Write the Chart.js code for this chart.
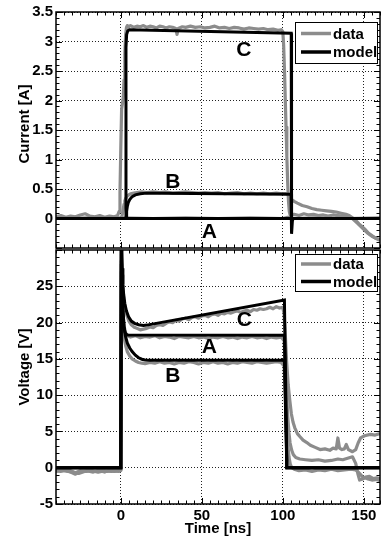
<!DOCTYPE html>
<html><head><meta charset="utf-8">
<script src="https://cdn.jsdelivr.net/npm/chart.js@4/dist/chart.umd.min.js"></script>
<style>
html,body{margin:0;padding:0;background:#fff;}
#wrap{position:relative;width:381px;height:541px;overflow:hidden;background:#fff;}
canvas{position:absolute;left:0;}
#c1{top:0;}
#c2{top:238px;}
</style></head><body>
<div id="wrap"><canvas id="c1" width="381" height="262"></canvas><canvas id="c2" width="381" height="303"></canvas></div>
<script>
// ---------- axes ----------
const timeRange = [-40, 160];
const timeTicks = [0, 50, 100, 150];
const currentRange = [-0.5, 3.5];
const currentTicks = [0, 0.5, 1, 1.5, 2, 2.5, 3, 3.5];
const voltageRange = [-5, 30];
const voltageTicks = [-5, 0, 5, 10, 15, 20, 25];
const legendNames = ['data', 'model'];

// ---------- current [A] : [time ns, value] ----------
const currentModelA = [[-40,0],[160,0]];
const currentModelB = [[-40,0],[3.3,0],[3.6,0.12],[4,0.2],[4.6,0.27],[5.5,0.32],[7,0.37],[9,0.4],[12,0.42],[16,0.43],[25,0.43],[105.1,0.41],[105.3,0.41],[105.5,-0.26],[105.9,-0.05],[106.3,0],[160,0]];
const currentModelC = [[-40,0],[3.0,0],[3.2,2.9],[3.6,3.12],[4.3,3.18],[5.3,3.2],[105.2,3.14],[105.4,0],[160,0]];

const currentDataA = [[-40,0.01],[-20,0.0],[0,0.01],[20,0.0],[40,0.01],[60,0.0],[80,0.01],[100,0.0],[103,0.02],[106,0.0],[120,0.01],[140,0.0],[160,0.01]];
const currentDataB = [[-40,0.01],[-30,0.0],[-20,0.01],[-10,0.0],[0,0.0],[0.5,0.02],[1,0.08],[1.5,0.16],[2,0.24],[2.5,0.3],[3,0.34],[4,0.38],[5,0.4],[6,0.42],[8,0.43],[10,0.44],[13,0.45],[16,0.44],[20,0.45],[24,0.44],[28,0.45],[32,0.43],[36,0.44],[40,0.45],[44,0.44],[48,0.43],[52,0.44],[56,0.43],[60,0.44],[64,0.42],[68,0.43],[72,0.44],[76,0.42],[80,0.43],[84,0.42],[88,0.43],[92,0.42],[96,0.43],[100,0.42],[102,0.42],[103,0.41],[104,0.37],[105,0.33],[107,0.29],[109,0.26],[112,0.22],[115,0.2],[118,0.17],[121,0.15],[124,0.14],[127,0.13],[130,0.12],[133,0.11],[136,0.09],[139,0.07],[141,0.05],[143,0.01],[145,-0.03],[147,-0.09],[149,-0.14],[151,-0.19],[153,-0.25],[155,-0.29],[157,-0.33],[160,-0.37]];
const currentDataC = [[-40,0.03],[-37,0.05],[-34,0.02],[-31,0.04],[-28,0.03],[-25,0.06],[-22,0.08],[-19,0.04],[-16,0.03],[-13,0.05],[-10,0.02],[-7,0.04],[-4,0.03],[-2,0.05],[-1,0.12],[-0.5,0.45],[0,1.2],[0.5,1.85],[1,1.95],[1.5,2.05],[2,2.35],[2.5,2.8],[3,3.12],[3.5,3.24],[4,3.27],[5,3.25],[6,3.27],[8,3.24],[10,3.26],[12,3.25],[14,3.27],[16,3.24],[18,3.26],[20,3.25],[22,3.23],[24,3.26],[26,3.25],[28,3.23],[30,3.25],[32,3.24],[34,3.22],[34.7,3.12],[35.4,3.22],[38,3.25],[40,3.24],[43,3.26],[46,3.24],[49,3.25],[52,3.23],[55,3.24],[58,3.26],[61,3.23],[64,3.24],[67,3.22],[70,3.24],[73,3.23],[76,3.21],[79,3.23],[82,3.22],[85,3.21],[88,3.22],[91,3.2],[94,3.21],[97,3.19],[99,3.2],[100,3.17],[100.5,2.95],[101,2.55],[101.5,2.05],[102,1.55],[102.5,1.05],[103,0.62],[103.5,0.3],[104,0.12],[104.5,0.06],[105,0.05],[107,0.07],[110,0.05],[113,0.08],[116,0.06],[119,0.07],[122,0.05],[125,0.06],[128,0.04],[131,0.06],[134,0.05],[137,0.04],[140,0.03],[143,0.0],[146,-0.08],[149,-0.16],[152,-0.24],[155,-0.3],[158,-0.34],[160,-0.36]];

// ---------- voltage [V] : [time ns, value] ----------
const voltageModelA = [[-40,0],[0,0],[0.3,30.5],[0.7,25],[1.2,21.5],[1.8,19.6],[2.5,18.7],[3.3,18.35],[4.5,18.3],[101,18.25],[102.5,0],[160,0]];
const voltageModelB = [[-40,0],[0,0],[0.3,30.5],[0.8,25],[1.4,21.5],[2,19.5],[2.8,18.2],[4,17.2],[5.5,16.5],[7,16.0],[9,15.5],[11,15.15],[13,14.95],[15,14.85],[18,14.8],[101,14.8],[102.5,0],[160,0]];
const voltageModelC = [[-40,0],[0,0],[0.3,30.5],[0.8,27.5],[1.3,25.2],[1.8,23.8],[2.5,22.6],[3.5,21.6],[4.8,20.8],[6.5,20.2],[8.5,19.9],[11,19.7],[14,19.6],[16,19.65],[101,23.1],[102.5,0],[160,0]];

const voltageDataA = [[-40,-0.4],[-36,-0.3],[-32,-0.5],[-28,-0.9],[-25,-0.5],[-21,-0.4],[-17,-0.6],[-13,-0.3],[-9,-0.5],[-5,-0.4],[-1,-0.5],[0,-0.3],[0.3,28],[0.8,24],[1.3,21.5],[2,19.5],[3,18.6],[4,18.2],[6,18.0],[9,18.2],[12,17.9],[15,18.1],[18,18.0],[21,18.2],[24,17.9],[27,18.1],[30,18.0],[33,17.8],[36,18.1],[39,18.0],[42,17.9],[45,18.1],[48,17.9],[51,18.0],[54,17.8],[57,18.0],[60,17.9],[63,18.1],[66,17.9],[69,18.0],[72,17.8],[75,18.0],[78,17.9],[81,18.1],[84,17.9],[87,18.0],[90,17.8],[93,18.0],[96,17.9],[99,18.0],[100.8,17.5],[101.5,14.5],[102.3,10.5],[103,7.2],[103.8,4.8],[104.5,3.4],[105.5,2.4],[106.5,1.8],[108,1.4],[110.5,1.2],[114,1.1],[118,1.0],[122,1.1],[126,0.9],[130,1.0],[134,1.2],[137,1.1],[140,1.3],[143,1.5],[145,0.6],[146.3,-0.8],[147.4,-1.7],[149,-1.6],[151,-1.3],[153.5,-1.2],[156,-1.5],[158,-1.4],[160,-1.5]];
const voltageDataB = [[-40,-0.5],[-35,-0.4],[-30,-0.6],[-26,-0.8],[-22,-0.5],[-18,-0.4],[-14,-0.6],[-10,-0.4],[-6,-0.5],[-2,-0.4],[0,-0.4],[0.3,27],[0.8,22.5],[1.3,19.8],[2,18],[3,16.8],[4,16.0],[5.5,15.4],[7,15.0],[9,14.7],[11,14.5],[13,14.4],[15,14.35],[18,14.5],[21,14.4],[24,14.6],[27,14.4],[30,14.5],[33,14.3],[36,14.5],[39,14.4],[42,14.6],[45,14.5],[48,14.3],[51,14.5],[54,14.4],[57,14.6],[60,14.4],[63,14.5],[66,14.3],[69,14.5],[72,14.4],[75,14.6],[78,14.5],[81,14.4],[84,14.6],[87,14.5],[90,14.4],[93,14.5],[96,14.6],[99,14.5],[100.8,14.0],[101.5,10.5],[102.2,6.5],[103,3.4],[103.8,1.5],[104.6,0.5],[105.5,0.0],[107,-0.2],[110,-0.4],[114,-0.3],[118,-0.5],[122,-0.3],[126,-0.4],[130,-0.2],[134,-0.4],[138,-0.3],[142,-0.2],[145,-0.3],[147,-0.7],[149.4,-1.3],[152,-1.5],[155,-1.7],[158,-1.6],[160,-1.8]];
const voltageDataC = [[-40,-0.3],[-37,-0.5],[-34,-0.2],[-31,-0.4],[-28,-0.7],[-25,-0.4],[-22,-0.5],[-19,-0.3],[-16,-0.5],[-13,-0.4],[-10,-0.6],[-7,-0.3],[-4,-0.5],[-1,-0.4],[0,-0.2],[0.3,28.5],[0.8,26.5],[1.3,24.6],[2,23],[3,21.6],[4,20.8],[5,20.2],[6.5,19.7],[8,19.4],[10,19.2],[12,19.0],[14,19.1],[16,19.2],[18,19.4],[20,19.3],[22,19.6],[24,19.7],[26,19.6],[28,19.9],[30,20.1],[32,20.0],[34,20.3],[36,20.2],[38,20.5],[40,20.6],[42,20.4],[44,20.7],[46,20.8],[48,20.6],[50,20.9],[52,21.0],[54,20.8],[56,21.1],[58,21.2],[60,21.0],[62,21.3],[64,21.2],[66,21.4],[68,21.3],[70,21.5],[72,21.6],[74,21.4],[76,21.6],[78,21.7],[80,21.5],[82,21.8],[84,21.7],[86,21.9],[88,21.8],[90,21.9],[92,22.1],[94,21.9],[96,22.2],[98,22.0],[100,22.1],[100.8,21.2],[101.5,18.5],[102.3,14.8],[103.3,11.5],[104.3,9.3],[105.3,7.4],[106.3,6.3],[107.4,5.5],[109,4.7],[110.5,4.3],[112.5,3.8],[114.6,3.5],[117,3.1],[120,2.8],[123,2.5],[126,2.6],[129,2.4],[131,2.7],[133,2.6],[134,4.1],[135,2.7],[136.5,2.5],[138,2.6],[139.2,3.2],[140.5,2.5],[143,2.2],[145,2.5],[146.5,3.4],[148,4.1],[150.5,4.4],[154,4.6],[157,4.5],[160,4.7]];

// ---------- curve labels: [text, time, value] ----------
const currentCurveLabels = [['C',76,2.86],['B',32.1,0.62],['A',54.6,-0.225]];
const voltageCurveLabels = [['C',76.2,20.26],['A',54.6,16.6],['B',32.1,12.57]];

// ---------- styling / helpers ----------
const FONT = '"Liberation Sans", Arial, Helvetica, sans-serif';
const GRAY = '#8c8c8c';
const toXY = arr => arr.map(([t, v]) => ({x: t, y: v}));
const modelSet = d => ({data: toXY(d), borderColor: '#000', borderWidth: 3, pointRadius: 0, fill: false, tension: 0, clip: 0});
const dataSet = d => ({data: toXY(d), borderColor: GRAY, borderWidth: 3.2, pointRadius: 0, fill: false, tension: 0, clip: 0, borderJoinStyle: 'round'});

const framePlugin = {
  id: 'frameDeco',
  afterDraw(chart, args, o) {
    const {ctx, chartArea: a, scales: {x, y}} = chart;
    ctx.save();
    ctx.strokeStyle = '#000';
    ctx.lineWidth = 1;
    ctx.beginPath();
    const isMajor = (v, m) => Math.abs(v / m - Math.round(v / m)) < 1e-6;
    for (let i = Math.ceil(x.min / o.xMinor - 1e-9); i * o.xMinor <= x.max + 1e-9; i++) {
      const v = i * o.xMinor;
      const px = Math.round(x.getPixelForValue(v)) + 0.5;
      const L = isMajor(v, o.xMajor) ? 6 : 3.5;
      ctx.moveTo(px, a.bottom); ctx.lineTo(px, a.bottom - L);
      ctx.moveTo(px, a.top); ctx.lineTo(px, a.top + L);
    }
    for (let i = Math.ceil(y.min / o.yMinor - 1e-9); i * o.yMinor <= y.max + 1e-9; i++) {
      const v = i * o.yMinor;
      const py = Math.round(y.getPixelForValue(v)) + 0.5;
      const L = isMajor(v, o.yMajor) ? 6 : 3.5;
      ctx.moveTo(a.left, py); ctx.lineTo(a.left + L, py);
      ctx.moveTo(a.right, py); ctx.lineTo(a.right - L, py);
    }
    ctx.stroke();
    ctx.lineWidth = 1.5;
    ctx.strokeRect(a.left, a.top, a.right - a.left, a.bottom - a.top);

    // curve labels
    ctx.fillStyle = '#000';
    ctx.font = 'bold 21px ' + FONT;
    ctx.textAlign = 'center';
    ctx.textBaseline = 'middle';
    for (const [t, xv, yv] of o.labels) ctx.fillText(t, x.getPixelForValue(xv), y.getPixelForValue(yv));

    // legend box
    const bx = a.right - 85, by = a.top + o.legendDy, bw = 82, bh = o.legendH;
    ctx.fillStyle = '#fff';
    ctx.fillRect(bx, by, bw, bh);
    ctx.lineWidth = 1;
    ctx.strokeStyle = '#000';
    ctx.strokeRect(bx + 0.5, by + 0.5, bw, bh);
    const rows = [by + o.row1, by + o.row2];
    const cols = [GRAY, '#000'];
    ctx.lineWidth = 3.5;
    ctx.font = 'bold 15px ' + FONT;
    ctx.textAlign = 'left';
    for (let i = 0; i < 2; i++) {
      ctx.strokeStyle = cols[i];
      ctx.beginPath(); ctx.moveTo(bx + 6, rows[i]); ctx.lineTo(bx + 36, rows[i]); ctx.stroke();
      ctx.fillStyle = '#000';
      ctx.fillText(legendNames[i], bx + 38, rows[i] + 1);
    }

    // y-axis title
    ctx.save();
    ctx.translate(25, (a.top + a.bottom) / 2 + o.titleDy);
    ctx.rotate(-Math.PI / 2);
    ctx.font = 'bold 15px ' + FONT;
    ctx.textAlign = 'center';
    ctx.textBaseline = 'middle';
    ctx.fillStyle = '#000';
    ctx.fillText(o.title, 0, 0);
    ctx.restore();
    ctx.restore();
  }
};

const gridOpts = {color: '#222', lineWidth: 1, drawTicks: false};
const borderOpts = {display: false, dash: [1, 2]};
const tickFont = {family: FONT, size: 15, weight: 'bold'};

function makeChart(id, cfg) {
  return new Chart(document.getElementById(id), {
    type: 'line',
    data: {datasets: cfg.datasets},
    plugins: [framePlugin],
    options: {
      responsive: false, animation: false, devicePixelRatio: 1,
      events: [],
      layout: {padding: {top: 11, right: 1, left: 0, bottom: 0}},
      plugins: {legend: {display: false}, tooltip: {enabled: false}, frameDeco: cfg.deco},
      scales: {
        x: {
          type: 'linear', min: timeRange[0], max: timeRange[1],
          grid: gridOpts, border: borderOpts,
          afterBuildTicks: s => { s.ticks = timeTicks.map(v => ({value: v})); },
          afterFit: s => { s.height = cfg.xHeight; },
          ticks: {display: cfg.showX, color: '#000', font: tickFont, padding: 3, autoSkip: false, maxRotation: 0, callback: v => String(v)},
          title: {display: cfg.showX, text: 'Time [ns]', color: '#000', font: {family: FONT, size: 15, weight: 'bold'}, padding: {top: 0, bottom: 3}}
        },
        y: {
          type: 'linear', min: cfg.yRange[0], max: cfg.yRange[1],
          grid: gridOpts, border: borderOpts,
          afterBuildTicks: s => { s.ticks = cfg.yTicks.map(v => ({value: v})); },
          afterFit: s => { s.width = 56; },
          ticks: {color: '#000', font: tickFont, padding: 3, autoSkip: false, callback: v => String(v)}
        }
      }
    }
  });
}

makeChart('c1', {
  datasets: [modelSet(currentModelC), modelSet(currentModelB), modelSet(currentModelA), dataSet(currentDataC), dataSet(currentDataB), dataSet(currentDataA)],
  yRange: currentRange, yTicks: currentTicks, showX: false, xHeight: 14,
  deco: {xMinor: 5, xMajor: 50, yMinor: 0.1, yMajor: 0.5, labels: currentCurveLabels, title: 'Current [A]', titleDy: -6, legendDy: 10, legendH: 41, row1: 11.5, row2: 30}
});
makeChart('c2', {
  datasets: [modelSet(voltageModelC), modelSet(voltageModelA), modelSet(voltageModelB), dataSet(voltageDataC), dataSet(voltageDataA), dataSet(voltageDataB)],
  yRange: voltageRange, yTicks: voltageTicks, showX: true, xHeight: 37,
  deco: {xMinor: 5, xMajor: 50, yMinor: 1, yMajor: 5, labels: voltageCurveLabels, title: 'Voltage [V]', titleDy: -10, legendDy: 4, legendH: 37, row1: 10, row2: 27.5}
});
</script>
</body></html>
